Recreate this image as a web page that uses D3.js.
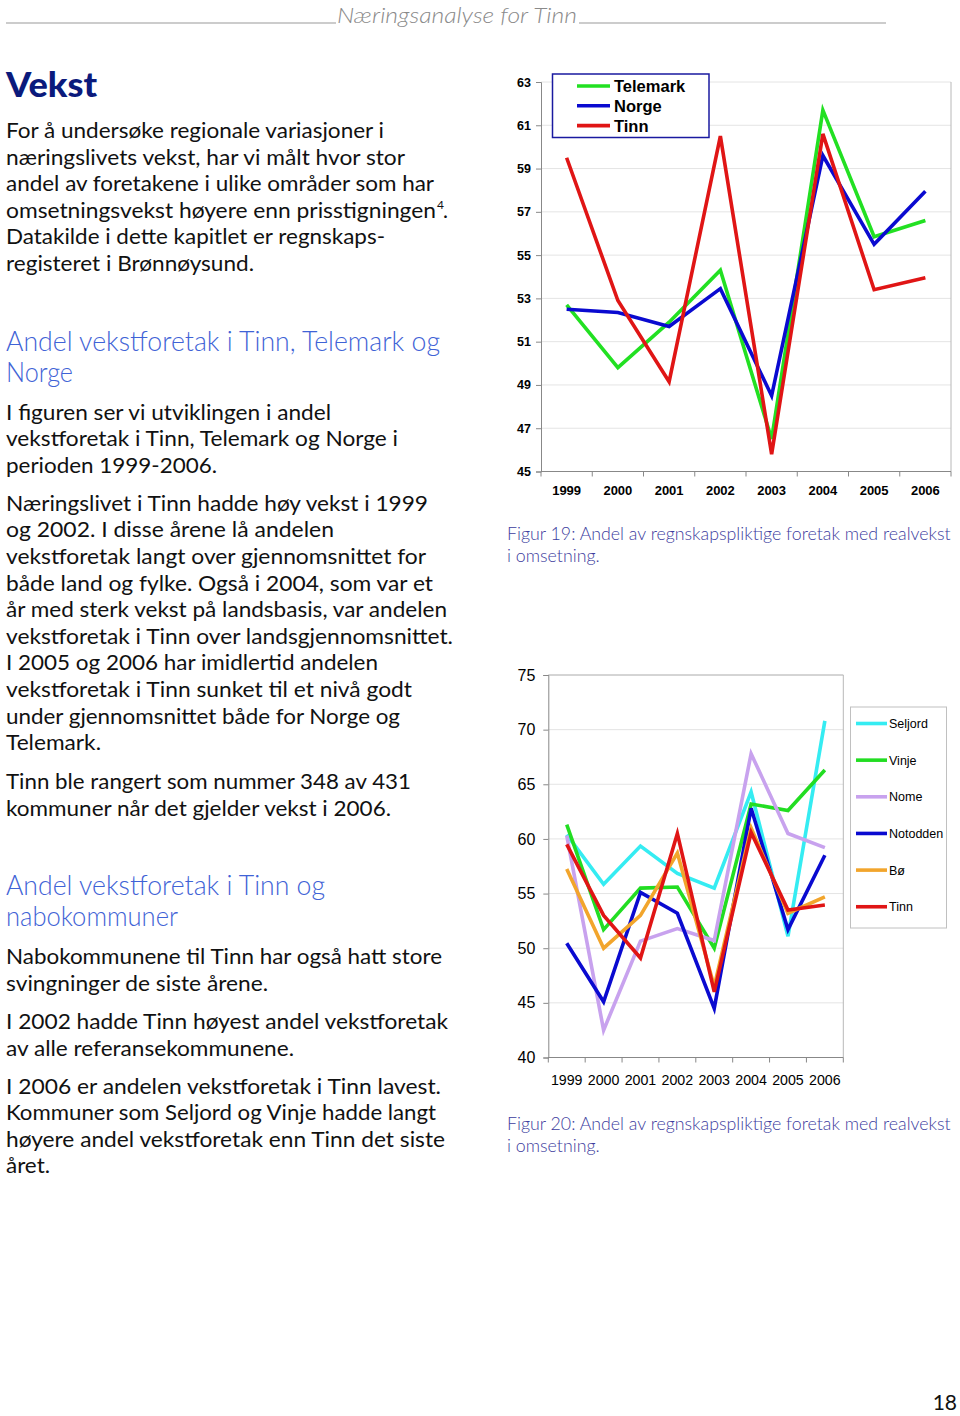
<!DOCTYPE html>
<html><head><meta charset="utf-8">
<script src="https://cdn.jsdelivr.net/npm/d3@7"></script>
<style>
html,body{margin:0;padding:0;background:#fff;}
svg{display:block;}
</style></head>
<body>
<script>
// ---------- DATA ----------
const years = ["1999","2000","2001","2002","2003","2004","2005","2006"];
// Figure 19
const telemark = [52.7, 49.8, 51.9, 54.3, 46.5, 61.7, 55.85, 56.6];
const norge    = [52.5, 52.35, 51.7, 53.45, 48.5, 59.6, 55.5, 57.95];
const tinn19   = [59.5, 52.9, 49.15, 60.5, 45.8, 60.6, 53.4, 53.95];
const ticks19  = [45, 47, 49, 51, 53, 55, 57, 59, 61, 63];
const names19  = ["Telemark", "Norge", "Tinn"];
// Figure 20
const seljord  = [60.4, 55.85, 59.35, 56.85, 55.5, 64.3, 51.1, 70.8];
const vinje    = [61.3, 51.7, 55.5, 55.6, 50.0, 63.2, 62.6, 66.3];
const nome     = [60.3, 42.5, 50.65, 51.8, 50.7, 67.8, 60.5, 59.2];
const notodden = [50.45, 45.1, 55.1, 53.2, 44.5, 62.8, 51.7, 58.5];
const bo       = [57.25, 50.0, 53.0, 58.7, 46.5, 61.0, 53.2, 54.7];
const tinn20   = [59.5, 53.0, 49.1, 60.5, 46.0, 60.6, 53.5, 53.95];
const ticks20  = [40, 45, 50, 55, 60, 65, 70, 75];
const names20  = ["Seljord", "Vinje", "Nome", "Notodden", "Bø", "Tinn"];

// ---------- TEXT ----------
const headerText = "Næringsanalyse for Tinn";
const titleText = "Vekst";
const intro = ["For å undersøke regionale variasjoner i","næringslivets vekst, har vi målt hvor stor","andel av foretakene i ulike områder som har","omsetningsvekst høyere enn prisstigningen","Datakilde i dette kapitlet er regnskaps-","registeret i Brønnøysund."];
const heading1 = ["Andel vekstforetak i Tinn, Telemark og","Norge"];
const para1 = ["I figuren ser vi utviklingen i andel","vekstforetak i Tinn, Telemark og Norge i","perioden 1999-2006."];
const para2 = ["Næringslivet i Tinn hadde høy vekst i 1999","og 2002.  I disse årene lå andelen","vekstforetak langt over gjennomsnittet for","både land og fylke.  Også i 2004, som var et","år med sterk vekst på landsbasis, var andelen","vekstforetak i Tinn over landsgjennomsnittet.","I 2005 og 2006 har imidlertid andelen","vekstforetak i Tinn sunket til et nivå godt","under gjennomsnittet både for Norge og","Telemark."];
const para3 = ["Tinn ble rangert som nummer 348 av 431","kommuner når det gjelder vekst i 2006."];
const heading2 = ["Andel vekstforetak i Tinn og","nabokommuner"];
const para4 = ["Nabokommunene til Tinn har også hatt store","svingninger de siste årene."];
const para5 = ["I 2002 hadde Tinn høyest andel vekstforetak","av alle referansekommunene."];
const para6 = ["I 2006 er andelen vekstforetak i Tinn lavest.","Kommuner som Seljord og Vinje hadde langt","høyere andel vekstforetak enn Tinn det siste","året."];
const caption19 = ["Figur 19: Andel av regnskapspliktige foretak med realvekst","i omsetning."];
const caption20 = ["Figur 20: Andel av regnskapspliktige foretak med realvekst","i omsetning."];
const pageNo = "18";

// ---------- LAYOUT ----------
const W = 960, H = 1416;
const svg = d3.select("body").append("svg").attr("width", W).attr("height", H);
const bodyFont = "Lato, 'Open Sans', sans-serif";
const chartFont = "'Liberation Sans', Arial, sans-serif";

// font size that makes `text` naturally `target` px wide
function fitSize(text, family, size, weight, style, target) {
  const t = svg.append("text").attr("font-family", family).attr("font-size", size)
    .attr("font-weight", weight).attr("font-style", style).text(text);
  const w = t.node().getComputedTextLength();
  t.remove();
  return size * target / w;
}

function block(lines, x, y0, lh, opts, widths) {
  lines.forEach((t, i) => {
    const el = svg.append("text").attr("x", x).attr("y", y0 + i * lh)
      .attr("font-family", opts.family || bodyFont)
      .attr("font-size", opts.size).attr("fill", opts.fill)
      .attr("font-weight", opts.weight || 400)
      .attr("font-style", opts.style || "normal")
      .text(t);
    if (widths && widths[i]) el.attr("textLength", widths[i]).attr("lengthAdjust", "spacingAndGlyphs");
  });
}

// header
svg.append("line").attr("x1", 6).attr("x2", 336).attr("y1", 23).attr("y2", 23).attr("stroke", "#999").attr("stroke-width", 1);
svg.append("line").attr("x1", 579).attr("x2", 886).attr("y1", 23).attr("y2", 23).attr("stroke", "#999").attr("stroke-width", 1);
svg.append("text").attr("x", 337).attr("y", 23).attr("font-family", bodyFont)
  .attr("font-size", 21).attr("font-style", "italic").attr("font-weight", 300).attr("fill", "#8a8a8a")
  .attr("textLength", 240).attr("lengthAdjust", "spacingAndGlyphs")
  .text(headerText);

// title
svg.append("text").attr("x", 6).attr("y", 97).attr("font-family", bodyFont).attr("font-size", 34)
  .attr("font-weight", 900).attr("fill", "#0b1a7c").attr("textLength", 91).attr("lengthAdjust", "spacingAndGlyphs").text(titleText);

const bodyOpts = {size: 21, fill: "#111"};
const headOpts = {size: 27, fill: "#3f63d6", weight: 300};
const capSize = fitSize(caption19[0], bodyFont, 19, 300, "normal", 444);
const capOpts = {size: capSize, fill: "#3d3d9e", weight: 300};

block(intro, 6, 138, 26.6, bodyOpts, [378, 399, 428, 430, 379, 248]);
// superscript 4 and period
svg.append("text").attr("x", 437).attr("y", 209).attr("font-family", bodyFont).attr("font-size", 12).attr("fill", "#111").text("4");
svg.append("text").attr("x", 443).attr("y", 217.8).attr("font-family", bodyFont).attr("font-size", 21).attr("fill", "#111").text(".");

block(heading1, 6, 350.5, 31.2, headOpts, [434, 67]);
block(para1, 6, 419.5, 26.6, bodyOpts, [325, 392, 211]);
block(para2, 6, 510.7, 26.6, bodyOpts, [422, 328, 420, 427, 441, 447, 372, 406, 394, 95]);
block(para3, 6, 789, 26.6, bodyOpts, [405, 385]);
block(heading2, 6, 895, 30.7, headOpts, [319, 172]);
block(para4, 6, 964, 26.6, bodyOpts, [436, 262]);
block(para5, 6, 1029, 26.6, bodyOpts, [442, 288]);
block(para6, 6, 1093.5, 26.6, bodyOpts, [435, 430, 439, 44]);
block(caption19, 507, 540, 22, capOpts, null);
block(caption20, 507, 1129.5, 22, capOpts, null);

svg.append("text").attr("x", 957).attr("y", 1409.5).attr("text-anchor", "end").attr("font-family", bodyFont)
  .attr("font-size", 21).attr("fill", "#111").text(pageNo);

// ---------- CHART helper ----------
function drawChart(cfg) {
  const x = d3.scaleBand().domain(years).range([cfg.x0, cfg.x1]).padding(0);
  const y = d3.scaleLinear().domain(cfg.domain).range([cfg.y1, cfg.y0]);
  const g = svg.append("g");
  // gridlines
  g.selectAll(".grid").data(cfg.ticks).enter().append("line")
    .attr("x1", cfg.x0).attr("x2", cfg.x1).attr("y1", d => y(d)).attr("y2", d => y(d))
    .attr("stroke", "#e4e4e4").attr("stroke-width", 1);
  // frame right/top
  g.append("line").attr("x1", cfg.x1).attr("x2", cfg.x1).attr("y1", cfg.y0).attr("y2", cfg.y1).attr("stroke", "#b8b8b8");
  if (cfg.topBorder) g.append("line").attr("x1", cfg.x0).attr("x2", cfg.x1).attr("y1", cfg.y0).attr("y2", cfg.y0).attr("stroke", "#b8b8b8");
  // y axis
  const ya = g.append("g").attr("transform", `translate(${cfg.x0},0)`)
    .call(d3.axisLeft(y).tickValues(cfg.ticks).tickSize(5).tickPadding(cfg.tickPad).tickFormat(d3.format("d")));
  ya.select(".domain").attr("stroke", "#888");
  ya.selectAll(".tick line").attr("stroke", "#888");
  ya.selectAll("text").attr("font-family", chartFont).attr("font-size", cfg.ySize)
    .attr("font-weight", cfg.bold ? 700 : 400).attr("fill", "#000");
  // x axis
  g.append("line").attr("x1", cfg.x0).attr("x2", cfg.x1).attr("y1", cfg.y1).attr("y2", cfg.y1).attr("stroke", "#888");
  const bounds = years.map(d => x(d)).concat([cfg.x1]);
  g.selectAll(".xt").data(bounds).enter().append("line")
    .attr("x1", d => d).attr("x2", d => d).attr("y1", cfg.y1).attr("y2", cfg.y1 + 5).attr("stroke", "#888");
  g.selectAll(".xl").data(years).enter().append("text")
    .attr("x", d => x(d) + x.bandwidth() / 2).attr("y", cfg.xLabelY).attr("text-anchor", "middle")
    .attr("font-family", chartFont).attr("font-size", cfg.xSize).attr("font-weight", cfg.bold ? 700 : 400)
    .attr("fill", "#000").text(d => d);
  // lines
  const line = d3.line().x((d, i) => x(years[i]) + x.bandwidth() / 2).y(d => y(d));
  cfg.series.forEach((s, k) => {
    g.append("path").datum(s).attr("d", line).attr("fill", "none")
      .attr("stroke", cfg.colors[k]).attr("stroke-width", 3.6).attr("stroke-linejoin", "miter");
  });
}

drawChart({
  x0: 541, x1: 951, y0: 82, y1: 471.5, domain: [45, 63], ticks: ticks19,
  tickPad: 5, ySize: 12.5, xSize: 13, bold: true, xLabelY: 495, topBorder: false,
  series: [telemark, norge, tinn19], colors: ["#22e022", "#0a0ad0", "#e01515"]
});

// legend 19
const lg1 = svg.append("g");
lg1.append("rect").attr("x", 552.5).attr("y", 74).attr("width", 156.5).attr("height", 63.5)
  .attr("fill", "#fff").attr("stroke", "#1a1aa0").attr("stroke-width", 1.5);
const c19 = ["#22e022", "#0a0ad0", "#e01515"];
names19.forEach((n, i) => {
  const yy = 86 + i * 19.8;
  lg1.append("line").attr("x1", 577).attr("x2", 610).attr("y1", yy).attr("y2", yy).attr("stroke", c19[i]).attr("stroke-width", 3.6);
  lg1.append("text").attr("x", 614).attr("y", yy + 6).attr("font-family", chartFont).attr("font-size", 16.5)
    .attr("font-weight", 700).attr("fill", "#000").text(n);
});

const c20 = ["#35ecf2", "#22dd22", "#c8a2ee", "#0a0ad0", "#f2a52c", "#e01515"];
drawChart({
  x0: 548.3, x1: 843.3, y0: 675, y1: 1057.5, domain: [40, 75], ticks: ticks20,
  tickPad: 8, ySize: 16, xSize: 14.2, bold: false, xLabelY: 1084.5, topBorder: true,
  series: [seljord, vinje, nome, notodden, bo, tinn20], colors: c20
});

// legend 20
const lg2 = svg.append("g");
lg2.append("rect").attr("x", 850.5).attr("y", 707).attr("width", 96).attr("height", 221)
  .attr("fill", "#fff").attr("stroke", "#c0c0c0").attr("stroke-width", 1);
names20.forEach((n, i) => {
  const yy = 723.5 + i * 36.65;
  lg2.append("line").attr("x1", 856).attr("x2", 887).attr("y1", yy).attr("y2", yy).attr("stroke", c20[i]).attr("stroke-width", 3.6);
  lg2.append("text").attr("x", 889).attr("y", yy + 4.5).attr("font-family", chartFont).attr("font-size", 12.5)
    .attr("fill", "#000").text(n);
});
</script>
</body></html>
